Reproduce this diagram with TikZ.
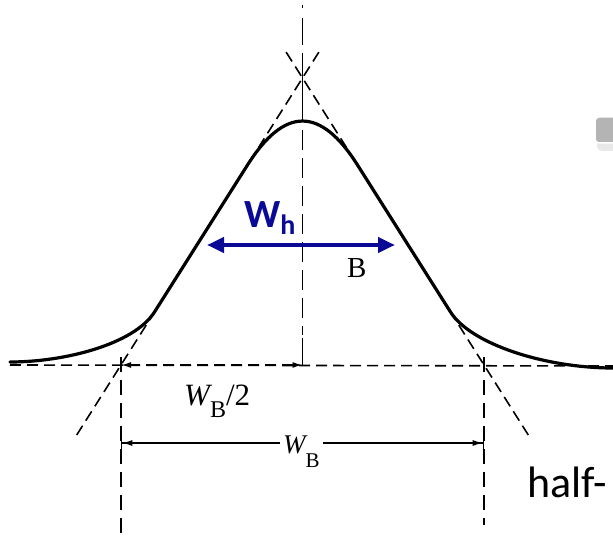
\documentclass[tikz,border=0pt]{standalone}
\usepackage{fontspec}
\setmainfont{Liberation Serif}
\newfontfamily\calibri{Carlito}
\usetikzlibrary{arrows.meta}
\definecolor{wblue}{RGB}{10,10,150}
\definecolor{boxgray}{RGB}{180,180,180}
\definecolor{shadowgray}{RGB}{232,232,232}
\begin{document}
\begin{tikzpicture}[x=1pt,y=-1pt,
  curve/.style={line width=3.2pt, line join=round, line cap=round},
  dsh/.style={line width=1.6pt, dash pattern=on 11pt off 6pt},
  vdsh/.style={line width=1.6pt, dash pattern=on 15pt off 8pt},
  cdsh/.style={line width=1.6pt, dash pattern=on 20pt off 8pt},
  solidc/.style={line width=1.6pt},
  dimline/.style={line width=1.3pt},
  lbl/.style={inner sep=0pt, anchor=base west},
]
\useasboundingbox (0,0) rectangle (613,540);

% gray box at right edge
\fill[shadowgray, rounded corners=5pt] (597,121) rectangle (625,151);
\draw[white, line width=1.5pt, fill=boxgray, rounded corners=4pt] (595,117) rectangle (625,143);

% tangent lines
\draw[dsh] (76.7,435) -- (320.2,50);
\draw[dsh] (528.3,435) -- (284.8,50);

% baseline
\draw[dsh] (10,365) -- (613,366);

% vertical dashed lines
\draw[vdsh] (121,357) -- (121,540);
\draw[vdsh] (484,357) -- (484,525);

% centerline
\draw[solidc] (302.5,5) -- (302.5,8);
\draw[solidc] (302.5,18) -- (302.5,45);
\draw[solidc] (302.5,53) -- (302.5,122);
\draw[cdsh] (302.5,130) -- (302.5,335);
\draw[solidc] (302.5,338) -- (302.5,365);

% peak curve
\draw[curve] (10,362) .. controls (65,362) and (134.2,344.1) .. (154.5,312)
  -- (247.5,165) .. controls (284.6,106.4) and (320.4,106.4) .. (357.5,165)
  -- (450.5,312) .. controls (470.8,344.1) and (545,368) .. (613,368);

% W_B/2 arrow
\draw[dsh, {Latex[length=10pt,width=6pt]}-{Latex[length=10pt,width=6pt]}] (302.5,365) -- (121,365);
\node[lbl] (wbhalf) at (184,405) {{\fontsize{31}{31}\selectfont\itshape W}\raisebox{-12pt}{\fontsize{24}{24}\selectfont B}{\fontsize{31}{31}\selectfont /2}};

% W_B arrow
\draw[dimline, {Bar[width=12pt]Latex[length=10pt,width=6pt]}-{Latex[length=10pt,width=6pt]Bar[width=12pt]}] (121,443) -- (484,443);
\node[lbl, fill=white, inner sep=3pt] (wb) at (280,453) {{\fontsize{27}{27}\selectfont\itshape W}\raisebox{-14pt}{\fontsize{21}{21}\selectfont B}};

% B label
\node[lbl] (blab) at (347,277) {\fontsize{29}{29}\selectfont B};

% W_h blue arrow
\draw[wblue, line width=4.5pt, {Triangle[length=17pt,width=15pt]}-{Triangle[length=17pt,width=15pt]}] (207,245) -- (395,245);
\node[lbl, text=wblue] (wh) at (244,227) {{\calibri\bfseries\fontsize{40}{40}\selectfont W}\raisebox{-8pt}{\calibri\bfseries\fontsize{28}{28}\selectfont h}};

% half-
\node[lbl] (half) at (527,497) {\calibri\fontsize{44}{44}\selectfont half-};
\end{tikzpicture}
\end{document}
